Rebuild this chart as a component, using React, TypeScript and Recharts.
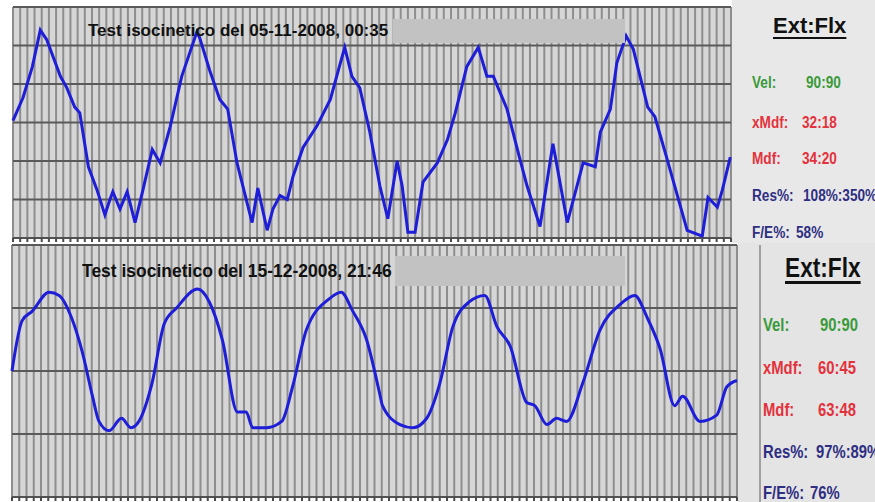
import React from 'react';
import {
  LineChart,
  Line,
  XAxis,
  YAxis,
  CartesianGrid,
} from 'recharts';

// first test (05-11-2008): sample position and torque
const topTime = [
  0, 1.4, 2.7, 3.8, 4.7, 6.6, 7.5, 8.6, 9.3, 10.5, 11.7, 12.8, 13.5, 13.9, 14.9,
  15.9, 17.0, 18.1, 19.4, 20.5, 21.9, 23.5, 25.6, 26.0, 27.4, 28.8, 29.9, 31.2,
  33.3, 34.1, 35.4, 36.2, 37.2, 38.2, 39.0, 40.4, 42.3, 44.2, 45.3, 46.2, 47.2,
  48.3, 49.7, 51.1, 52.2, 53.5, 54.2, 55.0, 56.0, 57.1, 59.1, 60.5, 61.6, 63.2,
  64.8, 66.0, 66.9, 68.8, 70.6, 71.6, 73.4, 75.2, 77.2, 79.4, 81.1, 81.8, 83.2,
  84.1, 85.4, 86.4, 88.4, 89.4, 91.1, 93.9, 96.0, 96.8, 98.1, 98.8, 99.9,
];
const topTorque = [
  61, 73, 89, 108, 103, 84, 78, 68, 65, 37, 25, 12, 20, 24, 15,
  24, 8, 25, 46, 39, 58, 84, 107, 104, 87, 72, 67, 39,
  8, 26, 4, 15, 22, 20, 32, 47, 58, 72, 87, 99, 84,
  78, 55, 27, 10, 40, 27, 3, 3, 29, 39, 51, 65, 89,
  99, 84, 84, 67, 41, 27, 6, 49, 8, 39, 37, 55, 67,
  91, 105, 98, 68, 63, 41, 4, 1, 21, 16, 25, 42,
];

// second test (15-12-2008)
const bottomTime = [
  0, 1.4, 2.8, 5.1, 6.5, 8.2, 9.7, 11.1, 12.0, 13.4, 15.1, 16.4, 17.5, 19.3,
  21.0, 22.7, 25.6, 27.2, 29.0, 31.1, 32.3, 33.2, 35.1, 37.2, 38.7, 40.6, 43.8,
  45.4, 47.0, 48.9, 50.7, 51.1, 53.5, 55.3, 57.2, 59.0, 60.8, 63.1, 65.2, 66.9,
  68.7, 71.0, 72.1, 73.8, 75.1, 76.5, 78.7, 81.1, 83.8, 85.9, 87.6, 89.4, 91.4,
  92.5, 94.9, 97.2, 98.6, 100,
];
const bottomTorque = [
  40, 56, 59, 65, 64, 57, 46, 32, 24, 21, 25, 22, 24, 36,
  55, 60, 66, 62, 50, 27, 27, 22, 22, 24, 35, 53, 63,
  65, 59, 50, 33, 29, 23, 22, 25, 36, 54, 62, 64, 54,
  48, 30, 29, 23, 25, 24, 36, 53, 61, 64, 57, 47, 29,
  32, 24, 26, 35, 37,
];

const topYTicks = [0, 20, 40, 60, 80, 100, 120];
const bottomYTicks = [0, 20, 40, 60, 80];
const gridX = Array.from({ length: 101 }, (_, i) => i);

const statLabels = ['Vel:', 'xMdf:', 'Mdf:', 'Res%:', 'F/E%:'];
const statColors = ['#3a9a3a', '#e3323c', '#e3323c', '#2e2e82', '#2e2e82'];
const topStats = ['90:90', '32:18', '34:20', '108%:350%', '58%'];
const bottomStats = ['90:90', '60:45', '63:48', '97%:89%', '76%'];

const topRows = topTime.map((t, i) => ({ t, v: topTorque[i] }));
const bottomRows = bottomTime.map((t, i) => ({ t, v: bottomTorque[i] }));

const font = '"Liberation Sans", Arial, sans-serif';

function Panel({ rows, yTicks, yMax, width, height, margin, curve }) {
  return (
    <LineChart width={width} height={height} data={rows} margin={margin}>
      <CartesianGrid
        horizontal={false}
        stroke="#8e8e8e"
        strokeWidth={2}
        fill="#d6d6d6"
        fillOpacity={1}
      />
      <CartesianGrid vertical={false} stroke="#5a5a5a" strokeWidth={2} />
      <XAxis
        type="number"
        dataKey="t"
        domain={[0, 100]}
        ticks={gridX}
        interval={0}
        height={5}
        tickSize={4}
        tickFormatter={() => ''}
        stroke="#4a4a4a"
        tickLine={{ stroke: '#4a4a4a', strokeWidth: 2 }}
      />
      <YAxis type="number" domain={[0, yMax]} ticks={yTicks} hide />
      <Line
        type={curve}
        dataKey="v"
        stroke="#1e1ed8"
        strokeWidth={3}
        dot={false}
        isAnimationActive={false}
      />
    </LineChart>
  );
}

function Stats({ values, left, valueLefts, rowsY, size, scale }) {
  return (
    <>
      {statLabels.map((label, i) => (
        <React.Fragment key={label}>
          <div style={{ ...txt(left, rowsY[i], size, scale), color: statColors[i] }}>{label}</div>
          <div style={{ ...txt(valueLefts[i], rowsY[i], size, scale), color: statColors[i] }}>
            {values[i]}
          </div>
        </React.Fragment>
      ))}
    </>
  );
}

function txt(x, cy, size, scale) {
  const h = Math.round(size * 1.2);
  return {
    position: 'absolute',
    left: x,
    top: cy - h / 2,
    height: h,
    lineHeight: h + 'px',
    fontSize: size,
    fontWeight: 'bold',
    fontFamily: font,
    whiteSpace: 'nowrap',
    transform: `scaleX(${scale})`,
    transformOrigin: 'left center',
  };
}

export default function App() {
  return (
    <div
      style={{
        position: 'absolute',
        left: 0,
        top: 0,
        width: 875,
        height: 502,
        background: '#ffffff',
        overflow: 'hidden',
      }}
    >
      <div style={{ position: 'absolute', left: 732, top: 0, width: 143, height: 243, background: '#e8e8e8' }} />
      <div style={{ position: 'absolute', left: 738, top: 243, width: 137, height: 259, background: '#e4e4e4' }} />
      <div style={{ position: 'absolute', left: 759, top: 245, width: 2, height: 257, background: '#a0a0a0' }} />

      <div style={{ position: 'absolute', left: 0, top: 0 }}>
        <Panel
          rows={topRows}
          yTicks={topYTicks}
          yMax={120}
          width={740}
          height={245}
          margin={{ top: 7, right: 9, left: 13, bottom: 2 }}
          curve="linear"
        />
      </div>
      <div style={{ position: 'absolute', left: 0, top: 238 }}>
        <Panel
          rows={bottomRows}
          yTicks={bottomYTicks}
          yMax={80}
          width={745}
          height={264}
          margin={{ top: 7, right: 8, left: 12, bottom: 0 }}
          curve="monotone"
        />
      </div>

      <div style={{ position: 'absolute', left: 393, top: 19, width: 232, height: 24, background: '#c2c2c2' }} />
      <div style={{ ...txt(88, 31, 17, 1), color: '#111' }}>Test isocinetico del 05-11-2008, 00:35</div>
      <div style={{ position: 'absolute', left: 395, top: 256, width: 230, height: 30, background: '#c2c2c2' }} />
      <div style={{ ...txt(82, 270, 19, 0.92), color: '#111' }}>Test isocinetico del 15-12-2008, 21:46</div>

      <div
        style={{
          ...txt(773, 26, 22, 1),
          color: '#111',
          textDecoration: 'underline',
          textDecorationThickness: '2px',
          textUnderlineOffset: '4px',
        }}
      >
        Ext:Flx
      </div>
      <Stats
        values={topStats}
        left={752}
        valueLefts={[806, 802, 802, 803, 796]}
        rowsY={[82, 122, 158, 195, 232]}
        size={16}
        scale={0.85}
      />

      <div
        style={{
          ...txt(785, 268, 27, 0.84),
          color: '#111',
          textDecoration: 'underline',
          textDecorationThickness: '3px',
          textUnderlineOffset: '4px',
        }}
      >
        Ext:Flx
      </div>
      <Stats
        values={bottomStats}
        left={763}
        valueLefts={[820, 818, 818, 816, 810]}
        rowsY={[324, 367, 409, 451, 492]}
        size={19}
        scale={0.78}
      />
    </div>
  );
}
